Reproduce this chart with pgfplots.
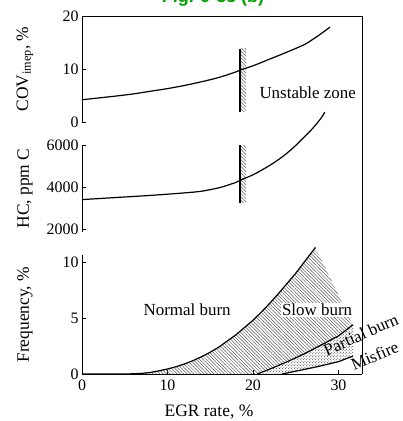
\documentclass[border=0pt]{standalone}
\usepackage{fontspec}
\setmainfont{Liberation Serif}
\setsansfont{Liberation Sans}
\usepackage{pgfplots}
\pgfplotsset{compat=1.18}
\usetikzlibrary{patterns,patterns.meta}
\definecolor{figgreen}{RGB}{0,165,0}

\pgfplotsset{
 panel/.style={
   scale only axis, width=280bp, xmin=0, xmax=32.75,
   axis y line*=left, axis line style={-, line width=0.8bp},
   clip=false, tick align=inside, major tick length=4bp,
   tick style={line width=0.8bp, black},
   ticklabel style={font=\fontsize{16}{18}\selectfont},
   /pgf/number format/assume math mode=true,
   /pgf/number format/1000 sep={},
   scaled y ticks=false,
   label style={font=\fontsize{17.5}{19}\selectfont},
   ylabel style={at={(axis description cs:-0.204,0.5)}, anchor=center},
   anchor=south west,
 },
 curve/.style={black, line width=1.2bp, no marks},
 hatch/.style={draw=none, pattern={Lines[angle=-45,distance=2.4bp,line width=0.5bp]}, pattern color=black!65},
}

\begin{document}
\begin{tikzpicture}
% ---------- top panel: COV ----------
\begin{axis}[panel, name=top, at={(82bp,-122bp)}, height=106bp,
  axis x line=none, ymin=0, ymax=20, ytick={0,10,20},
  ylabel={COV\textsubscript{imep}, \%}]
\addplot[hatch] coordinates {(18.5,1.9)(19.2,1.9)(19.2,13.8)(18.5,13.8)} -- cycle;
\addplot[black, line width=1.4bp] coordinates {(18.5,1.9)(18.5,13.8)};
\addplot[curve, smooth] coordinates {
 (0,4.2)(2,4.55)(4,4.9)(6,5.3)(8,5.8)(10,6.3)(12,6.9)(14,7.6)(16,8.4)(18,9.45)
 (18.5,9.8)(20,10.6)(22,11.9)(24,13.2)(26,14.6)(27,15.6)(28,16.7)(29,17.9)};
\draw[line width=0.8bp] (rel axis cs:0,1) -- (rel axis cs:1,1);
\node[font=\fontsize{17}{19}\selectfont] at (axis cs:26.4,5.6) {Unstable zone};
\end{axis}

% ---------- middle panel: HC ----------
\begin{axis}[panel, name=mid, at={(82bp,-232.15bp)}, height=87.15bp,
  axis x line=none, ymin=1850, ymax=6000, ytick={2000,4000,6000},
  ylabel={HC, ppm C}]
\addplot[hatch] coordinates {(18.5,3240)(19.2,3240)(19.2,6000)(18.5,6000)} -- cycle;
\addplot[black, line width=1.4bp] coordinates {(18.5,3240)(18.5,6000)};
\addplot[curve, smooth] coordinates {
 (0,3400)(4,3500)(8,3600)(12,3720)(14,3800)(16,3960)(17,4080)(18,4220)(18.5,4320)
 (20,4580)(21,4800)(22,5040)(23,5310)(24,5620)(25,5980)(26,6380)(27,6800)(28,7300)(28.4,7570)};
\end{axis}

% ---------- bottom panel: Frequency ----------
\begin{axis}[panel, name=bot, at={(82bp,-374bp)}, height=118.7bp,
  axis x line*=bottom, ymin=0, ymax=10.6, ytick={0,5,10}, xtick={0,10,20,30},
  xticklabel style={yshift=-2bp},
  ylabel={Frequency, \%}, xlabel={EGR rate, \%},
  xlabel style={at={(axis description cs:0.4536,0)}, anchor=base, yshift=-42bp}]
% slow burn region
\addplot[hatch] coordinates {
 (5,0)(6,0.02)(7,0.06)(8,0.14)(9,0.28)(10,0.45)(11,0.65)(12,0.9)(13,1.2)(14,1.55)
 (15,1.95)(16,2.4)(17,2.95)(18,3.5)(19,4.15)(20,4.8)(21,5.55)(22,6.35)(23,7.2)(24,8.1)
 (25,9.0)(26,10.0)(27,11.0)(27.3,11.3)
 (31.7,4.4)(30,3.4)(28,2.6)(26,1.8)(24,1.1)(22,0.45)(20.5,0)} -- cycle;
% partial burn region
\addplot[draw=none, pattern={crosshatch dots}, pattern color=black!80] coordinates {
 (20.5,0)(22,0.45)(24,1.1)(26,1.8)(28,2.6)(30,3.4)(31.7,4.4)
 (31.7,1.6)(30,1.1)(27.5,0.65)(25,0.25)(23.4,0)} -- cycle;
% boundaries
\addplot[curve] coordinates {
 (0,0)(5,0)(6,0.02)(7,0.06)(8,0.14)(9,0.28)(10,0.45)(11,0.65)(12,0.9)(13,1.2)(14,1.55)
 (15,1.95)(16,2.4)(17,2.95)(18,3.5)(19,4.15)(20,4.8)(21,5.55)(22,6.35)(23,7.2)(24,8.1)
 (25,9.0)(26,10.0)(27,11.0)(27.3,11.3)};
\addplot[curve] coordinates {(20.5,0)(22,0.45)(24,1.1)(26,1.8)(28,2.6)(30,3.4)(31.7,4.4)};
\addplot[curve] coordinates {(23.4,0)(25,0.25)(27.5,0.65)(30,1.1)(31.7,1.6)};
\node[font=\fontsize{17}{19}\selectfont] at (axis cs:12.3,5.7) {Normal burn};
\node[font=\fontsize{17}{19}\selectfont, fill=white, inner sep=1pt] at (axis cs:27.5,5.7) {Slow burn};
\node[font=\fontsize{17}{19}\selectfont, rotate=24, anchor=base, inner sep=0.5pt] at (axis cs:32.9,3.05) {Partial burn};
\node[font=\fontsize{17}{19}\selectfont, rotate=23, anchor=base, inner sep=0.5pt] at (axis cs:34.5,1.15) {Misfire};
\end{axis}

% right frame line
\draw[line width=0.8bp] (bot.south east) -- (top.north east);
% title (cut off at top edge)
\node[anchor=base, font=\fontsize{18}{20}\selectfont\sffamily\bfseries, text=figgreen] at (213bp,-2.5bp) {Fig. 9-35 (b)};

\pgfresetboundingbox
\path[use as bounding box] (0,0) rectangle (403bp,-421bp);
\end{tikzpicture}
\end{document}
